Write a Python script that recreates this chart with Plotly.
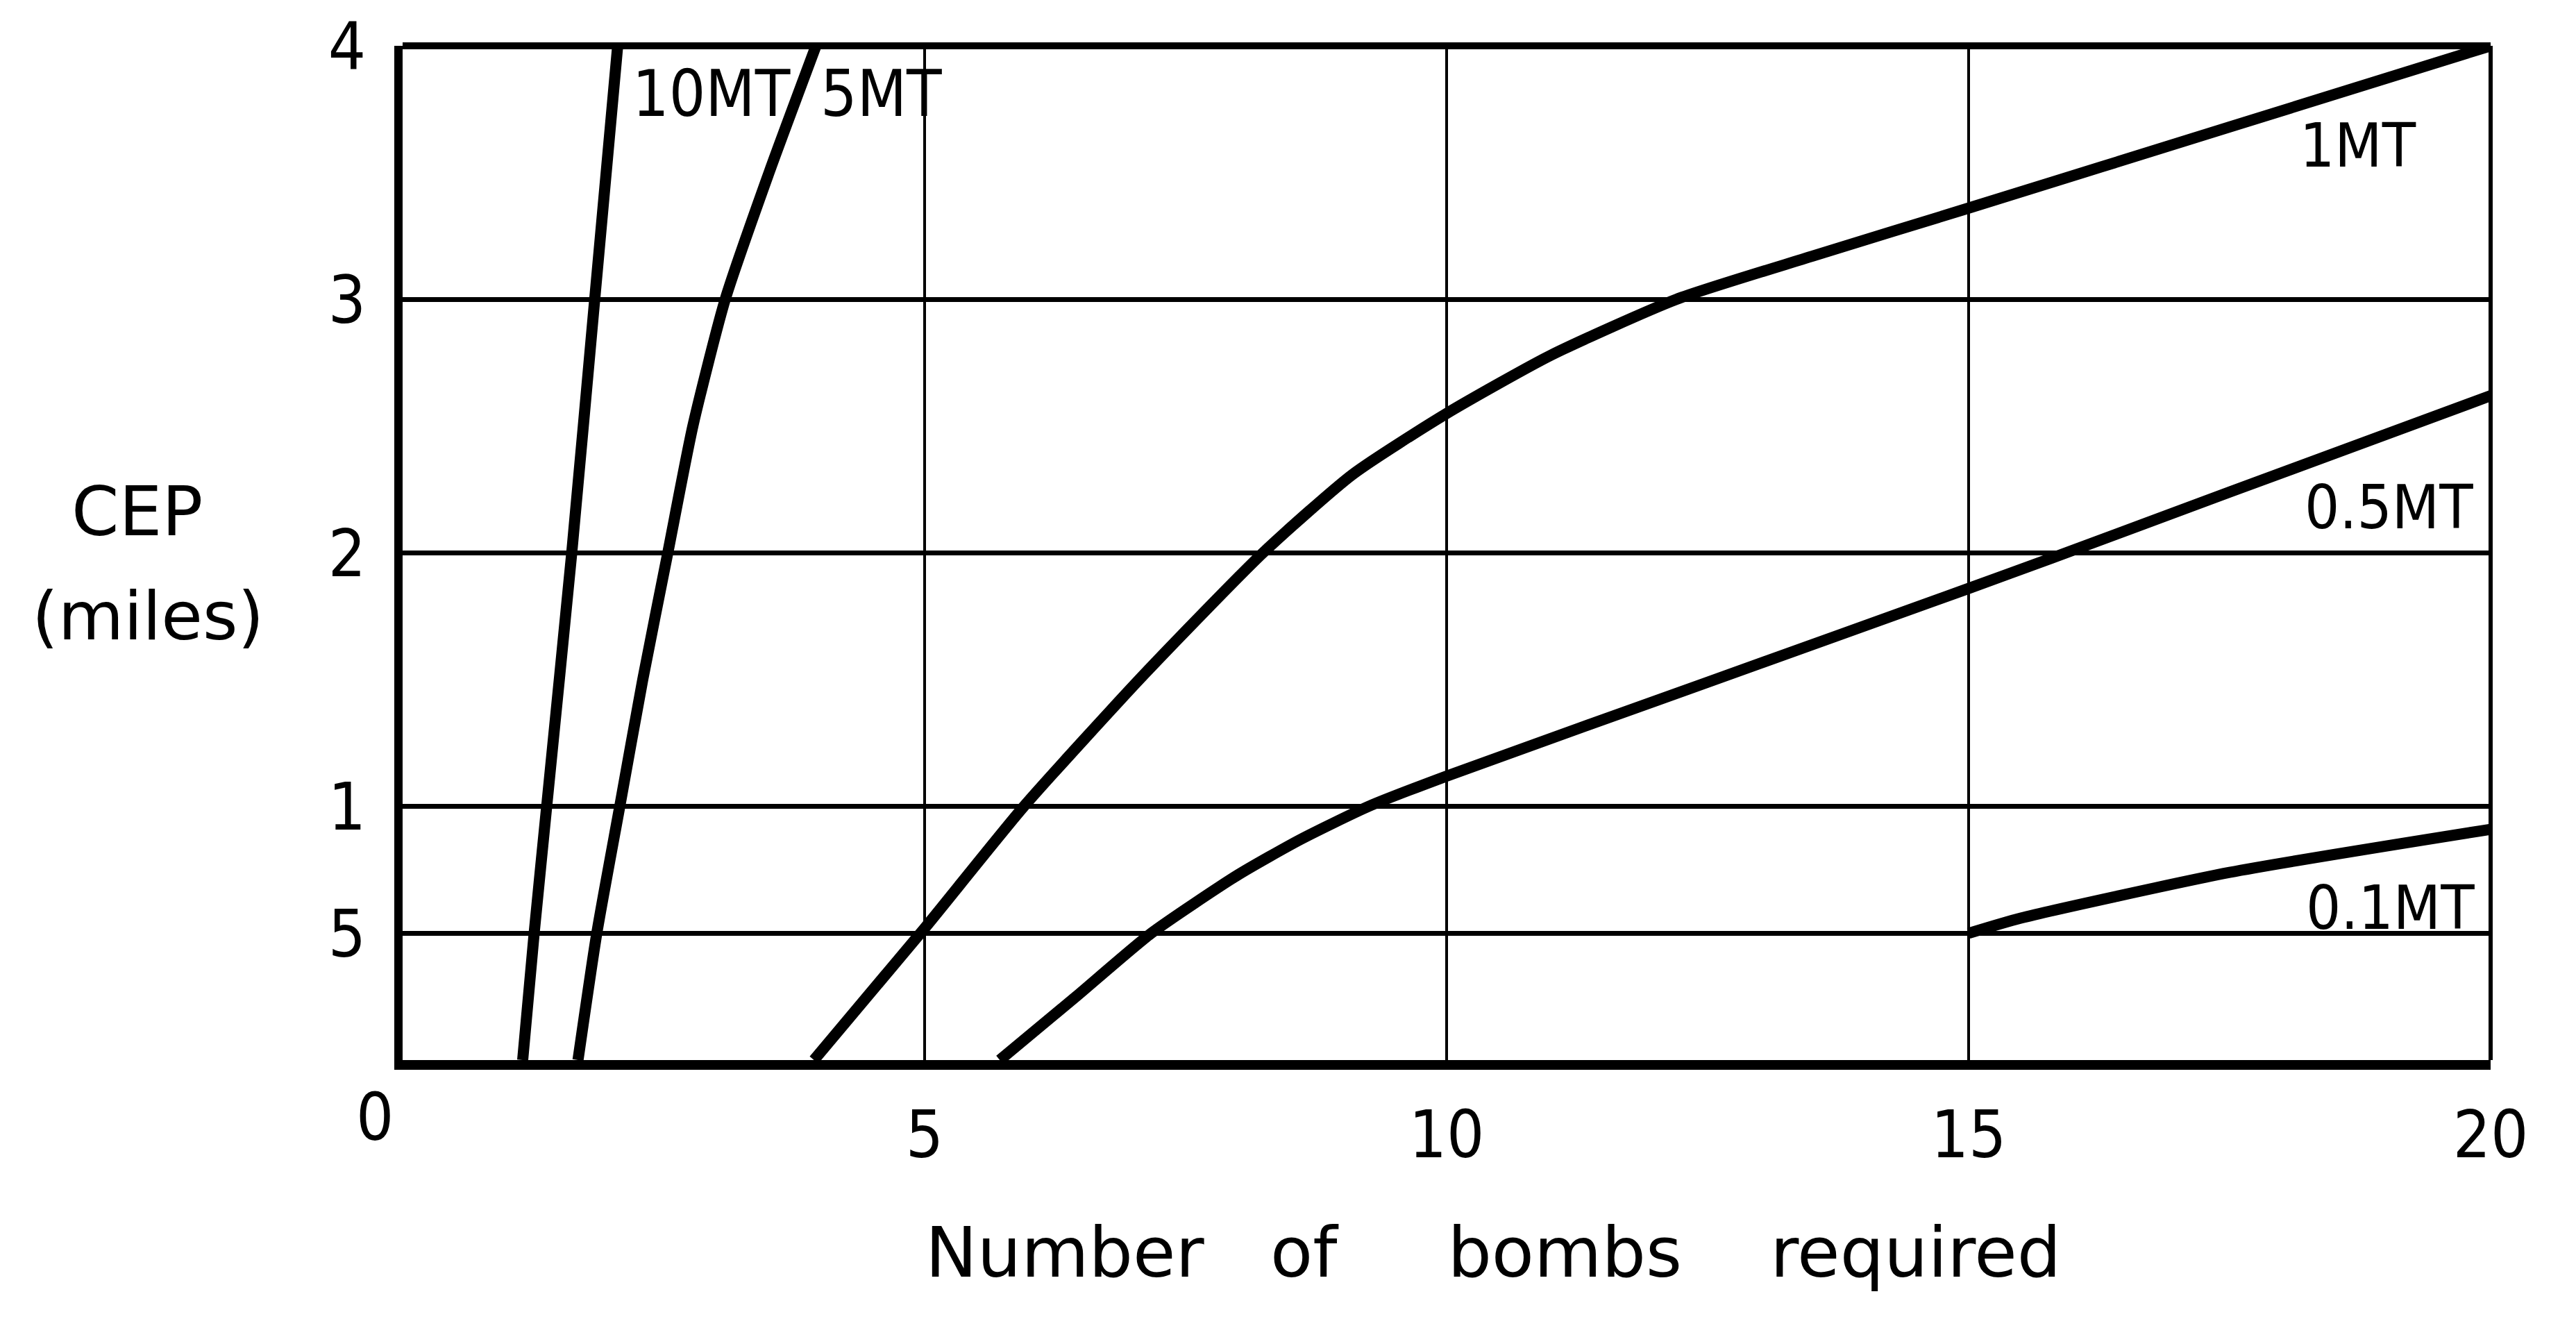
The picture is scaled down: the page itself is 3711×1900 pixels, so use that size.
import plotly.graph_objects as go

# ---- data ----
x_10mt = [1.15, 1.26, 1.38, 1.62, 1.84, 2.06]
y_10mt = [0.0, 0.5, 1.0, 2.0, 3.0, 4.0]

x_5mt = [1.68, 1.86, 2.08, 2.30, 2.54, 2.78, 3.09, 3.51, 3.96]
y_5mt = [0.0, 0.5, 1.0, 1.5, 2.0, 2.5, 3.0, 3.5, 4.0]

x_1mt = [3.94, 5.0, 5.95, 7.1, 8.24, 9.1, 10.0, 11.0, 12.2, 13.5, 15.0, 17.5, 20.0]
y_1mt = [0.0, 0.52, 1.0, 1.52, 2.0, 2.31, 2.55, 2.78, 3.0, 3.17, 3.36, 3.68, 4.0]

x_05mt = [5.72, 6.45, 7.17, 8.0, 8.6, 9.25, 10.0, 12.5, 15.0, 15.8, 17.5, 20.0]
y_05mt = [0.0, 0.25, 0.5, 0.73, 0.87, 1.0, 1.12, 1.49, 1.86, 1.98, 2.24, 2.62]

x_01mt = [15.0, 15.5, 17.5, 20.0]
y_01mt = [0.5, 0.56, 0.74, 0.91]

x_tickvals = [0, 5, 10, 15, 20]
x_ticktext = ["", "5", "10", "15", "20"]
y_tickvals = [0.5, 1, 2, 3, 4]
y_ticktext = ["5", "1", "2", "3", "4"]

series = [
    ("10MT", x_10mt, y_10mt),
    ("5MT", x_5mt, y_5mt),
    ("1MT", x_1mt, y_1mt),
    ("0.5MT", x_05mt, y_05mt),
    ("0.1MT", x_01mt, y_01mt),
]

NARROW = "DejaVu Sans Condensed, Liberation Sans Narrow, DejaVu Sans"
WIDE = "DejaVu Sans, Verdana, sans-serif"

W, H = 3711, 1900
ML, MR, MT, MB = 580, 123, 66, 373
pw, ph = W - ML - MR, H - MT - MB


def px_x(v):
    return (v - ML) / pw


def px_y(v):
    return (H - MB - v) / ph


fig = go.Figure()
for name, xs, ys in series:
    fig.add_trace(go.Scatter(
        x=xs, y=ys, mode="lines", name=name,
        line=dict(color="black", width=16, shape="spline", smoothing=0.6),
        showlegend=False, hoverinfo="skip",
    ))

# curve labels
labels = [
    ("10MT", 2.19, 3.81, "left", 92),
    ("5MT", 3.99, 3.81, "left", 92),
    ("1MT", 19.30, 3.606, "right", 88),
    ("0.5MT", 19.85, 2.18, "right", 88),
    ("0.1MT", 19.86, 0.60, "right", 88),
]
for txt, lx, ly, anchor, fs in labels:
    fig.add_annotation(x=lx, y=ly, xref="x", yref="y", text=txt, showarrow=False,
                       xanchor=anchor, yanchor="middle",
                       font=dict(family=NARROW, size=fs, color="black"))

# origin label
fig.add_annotation(x=0, y=0, xref="x", yref="y", text="0", showarrow=False,
                   xanchor="center", yanchor="middle", xshift=-40, yshift=-82,
                   font=dict(family=NARROW, size=95, color="black"))

# y title (two lines)
fig.add_annotation(x=px_x(197), y=px_y(737), xref="paper", yref="paper",
                   text="CEP", showarrow=False, xanchor="center", yanchor="middle",
                   font=dict(family=WIDE, size=98, color="black"))
fig.add_annotation(x=px_x(213), y=px_y(887), xref="paper", yref="paper",
                   text="(miles)", showarrow=False, xanchor="center", yanchor="middle",
                   font=dict(family=WIDE, size=97, color="black"))

# x title
nb = "\u00a0"
fig.add_annotation(x=px_x(2151), y=px_y(1805), xref="paper", yref="paper",
                   text="Number" + nb * 3 + "of" + nb * 5 + "bombs" + nb * 4 + "required",
                   showarrow=False, xanchor="center", yanchor="middle",
                   font=dict(family=WIDE, size=100, color="black"))

# top and right border lines
fig.add_shape(type="line", xref="paper", yref="paper", x0=0, x1=1, y0=1, y1=1,
              line=dict(color="black", width=10))
fig.add_shape(type="line", xref="paper", yref="paper", x0=1, x1=1, y0=0, y1=1,
              line=dict(color="black", width=6))

fig.update_layout(
    width=W, height=H,
    margin=dict(l=ML, r=MR, t=MT, b=MB, pad=0),
    paper_bgcolor="white", plot_bgcolor="white",
    xaxis=dict(range=[0, 20], tickvals=x_tickvals, ticktext=x_ticktext,
               showgrid=True, gridcolor="black", gridwidth=4,
               showline=True, linecolor="black", linewidth=14,
               zeroline=False, ticks="", ticklabelstandoff=12,
               tickfont=dict(family=NARROW, size=95, color="black")),
    yaxis=dict(range=[0, 4], tickvals=y_tickvals, ticktext=y_ticktext,
               showgrid=True, gridcolor="black", gridwidth=7,
               showline=True, linecolor="black", linewidth=12,
               zeroline=False, ticks="", ticklabelstandoff=22,
               tickfont=dict(family=NARROW, size=95, color="black")),
)

fig.write_html("out.html", config={"displayModeBar": False},
               post_script="document.body.style.margin='0px';")
